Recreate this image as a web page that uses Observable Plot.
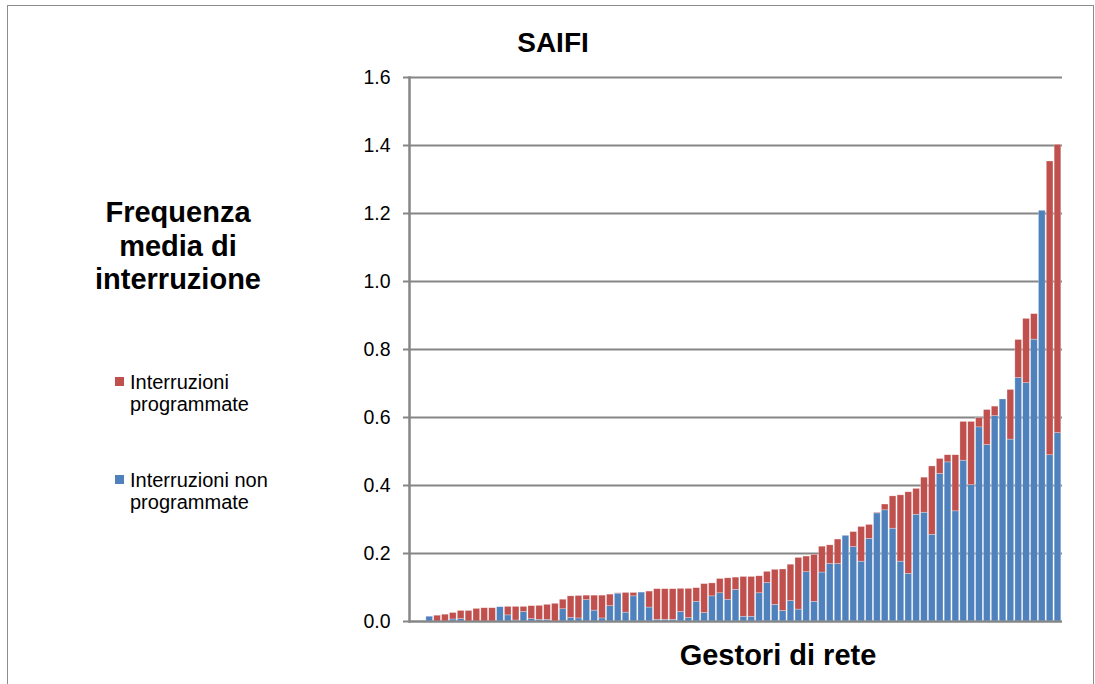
<!DOCTYPE html>
<html>
<head>
<meta charset="utf-8">
<script src="https://cdn.jsdelivr.net/npm/d3@7"></script>
<script src="https://cdn.jsdelivr.net/npm/@observablehq/plot@0.6"></script>
<style>
  body { margin: 0; background: #fff; font-family: "Liberation Sans", Arial, sans-serif; }
  #wrap { position: relative; width: 1095px; height: 684px; overflow: hidden; background: #fff; }
  #frame { position: absolute; left: 7px; top: 5px; width: 1085px; height: 720px; border: 1px solid #8c8c8c; }
  #chart { position: absolute; left: 0; top: 0; }
  .t { position: absolute; color: #000; white-space: nowrap; }
  #title { left: 453px; width: 200px; top: 27px; text-align: center; font: bold 28px "Liberation Sans", Arial, sans-serif; }
  #ytitle { left: 78px; width: 200px; top: 196px; text-align: center; font: bold 29px/33.5px "Liberation Sans", Arial, sans-serif; }
  #xtitle { left: 628px; width: 300px; top: 639px; text-align: center; font: bold 29px "Liberation Sans", Arial, sans-serif; }
  .leg { position: absolute; left: 115px; font: 20px/22px "Liberation Sans", Arial, sans-serif; color: #000; }
  .sw { position: absolute; left: 0; top: 6px; width: 9px; height: 9px; }
  .lt { position: absolute; left: 15px; top: 0; white-space: nowrap; }
</style>
</head>
<body>
<div id="wrap">
  <div id="frame"></div>
  <div id="chart"></div>
  <div class="t" id="title">SAIFI</div>
  <div class="t" id="ytitle">Frequenza<br>media di<br>interruzione</div>
  <div class="t" id="xtitle">Gestori di rete</div>
  <div class="leg" style="top:371px"><div class="sw" style="background:#C0504D"></div><div class="lt">Interruzioni<br>programmate</div></div>
  <div class="leg" style="top:469px"><div class="sw" style="background:#4F81BD"></div><div class="lt">Interruzioni non<br>programmate</div></div>
</div>
<script>
// Series names
const seriesNames = ["Interruzioni non programmate", "Interruzioni programmate"];
const seriesColors = ["#4F81BD", "#C0504D"];

// Categories: network operators (gestori), two leading empty slots
const categories = d3.range(1, 84).map(String);

// Unplanned interruptions (blue, bottom) per operator
const nonProgrammate = [0, 0,
  0.014, 0, 0, 0.006, 0.007, 0, 0, 0, 0, 0.042,
  0.018, 0.003, 0.028, 0.007, 0.005, 0.005, 0, 0.036, 0.011, 0.009,
  0.063, 0.032, 0.009, 0.045, 0.082, 0.026, 0.074, 0.085, 0.041, 0.005,
  0.005, 0.005, 0.028, 0.010, 0.058, 0.025, 0.074, 0.083, 0.064, 0.093,
  0.014, 0.014, 0.083, 0.113, 0.049, 0.031, 0.060, 0.035, 0.145, 0.058,
  0.144, 0.169, 0.169, 0.252, 0.219, 0.176, 0.243, 0.318, 0.327, 0.273,
  0.176, 0.140, 0.314, 0.320, 0.255, 0.434, 0.468, 0.324, 0.473, 0.401,
  0.571, 0.519, 0.604, 0.653, 0.535, 0.716, 0.701, 0.829, 1.208, 0.489,
  0.554];

// Planned interruptions (red, top) per operator
const programmate = [0, 0,
  0, 0.017, 0.020, 0.019, 0.024, 0.031, 0.037, 0.039, 0.039, 0,
  0.025, 0.040, 0.015, 0.038, 0.041, 0.044, 0.052, 0.028, 0.063, 0.066,
  0.013, 0.044, 0.067, 0.034, 0.001, 0.058, 0.010, 0, 0.047, 0.090,
  0.090, 0.090, 0.068, 0.086, 0.040, 0.085, 0.038, 0.042, 0.063, 0.036,
  0.117, 0.117, 0.050, 0.033, 0.103, 0.122, 0.107, 0.152, 0.046, 0.138,
  0.076, 0.055, 0.072, 0, 0.044, 0.102, 0.041, 0.002, 0.017, 0.095,
  0.195, 0.240, 0.076, 0.103, 0.201, 0.044, 0.021, 0.165, 0.114, 0.186,
  0.027, 0.103, 0.028, 0, 0.146, 0.112, 0.189, 0.075, 0, 0.864,
  0.848];

// Y tick labels
const yTicks = [0, 0.2, 0.4, 0.6, 0.8, 1.0, 1.2, 1.4, 1.6];

const rows = [];
categories.forEach((c, i) => rows.push({cat: c, series: seriesNames[0], value: nonProgrammate[i]}));
categories.forEach((c, i) => rows.push({cat: c, series: seriesNames[1], value: programmate[i]}));

const grey = "#868686";
const chart = Plot.plot({
  width: 1095,
  height: 684,
  marginLeft: 409,
  marginRight: 33,
  marginTop: 77,
  marginBottom: 63,
  style: {background: "transparent", color: "#000"},
  x: {type: "band", domain: categories, padding: 0.15, axis: null},
  y: {domain: [0, 1.6], axis: null},
  color: {domain: seriesNames, range: seriesColors},
  marks: [
    Plot.gridY(yTicks, {stroke: grey, strokeOpacity: 1, strokeWidth: 2}),
    Plot.barY(rows, {x: "cat", y: "value", fill: "series", stroke: "#fff", strokeOpacity: 0.45, strokeWidth: 0.6}),
    Plot.axisY({ticks: yTicks, tickFormat: d => d.toFixed(1), tickSize: 6, tickPadding: 13, label: null,
      fontSize: 19.5, fontFamily: "Liberation Sans, Arial, sans-serif", stroke: grey, strokeWidth: 2, fill: "#000"}),
    Plot.ruleY([0], {stroke: grey, strokeWidth: 2}),
    Plot.frame({anchor: "left", stroke: grey, strokeWidth: 2.5})
  ]
});
document.getElementById("chart").appendChild(chart);
</script>
</body>
</html>
